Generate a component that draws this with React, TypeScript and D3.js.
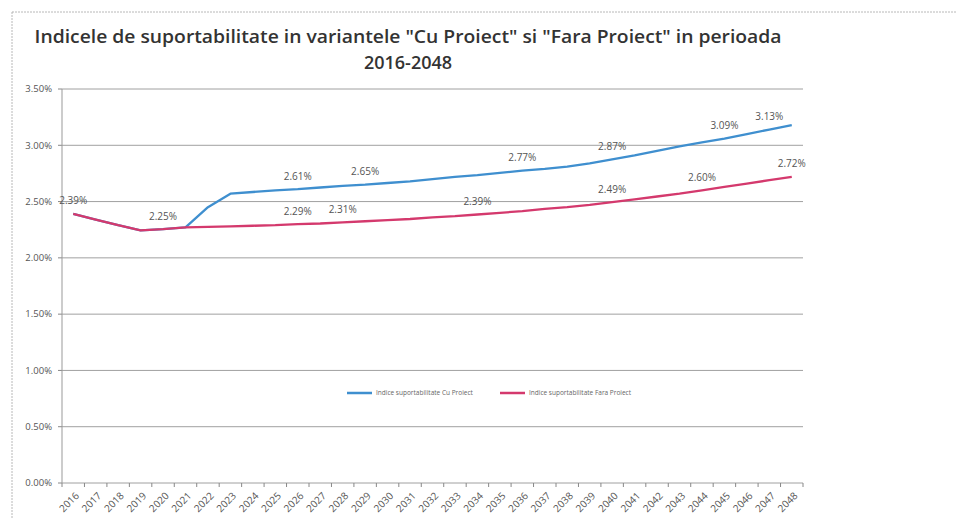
import React from 'react';
import * as d3 from 'd3';

// years on the category axis
const years = d3.range(2016, 2049).map(String);

// Indice suportabilitate Cu Proiect (%)
const cuProiect = [
  2.39, 2.34, 2.29, 2.245, 2.255, 2.27, 2.45, 2.57, 2.585, 2.6, 2.61,
  2.625, 2.64, 2.65, 2.665, 2.68, 2.7, 2.72, 2.735, 2.755, 2.775, 2.79,
  2.81, 2.84, 2.875, 2.91, 2.95, 2.99, 3.025, 3.06, 3.1, 3.14, 3.18,
];

// Indice suportabilitate Fara Proiect (%)
const faraProiect = [
  2.39, 2.34, 2.29, 2.245, 2.255, 2.27, 2.275, 2.28, 2.285, 2.29, 2.3,
  2.305, 2.315, 2.325, 2.335, 2.345, 2.36, 2.37, 2.385, 2.4, 2.415, 2.435,
  2.45, 2.47, 2.495, 2.52, 2.545, 2.57, 2.6, 2.63, 2.66, 2.69, 2.72,
];

// data labels as printed on the chart
const cuLabelYears = ['2026', '2029', '2036', '2040', '2045', '2047'];
const cuLabelValues = [2.61, 2.65, 2.77, 2.87, 3.09, 3.13];
const faraLabelYears = ['2016', '2020', '2026', '2028', '2034', '2040', '2044', '2048'];
const faraLabelValues = [2.39, 2.25, 2.29, 2.31, 2.39, 2.49, 2.6, 2.72];

const yTicks = [0, 0.5, 1, 1.5, 2, 2.5, 3, 3.5];

const titleLine1 = 'Indicele de suportabilitate in variantele "Cu Proiect" si "Fara Proiect" in perioada';
const titleLine2 = '2016-2048';
const cuName = 'Indice suportabilitate Cu Proiect';
const faraName = 'Indice suportabilitate Fara Proiect';

const blue = '#3f8fcf';
const pink = '#d4396d';

export default function App() {
  const width = 957;
  const height = 519;
  const left = 62;
  const right = 803;
  const top = 89;
  const bottom = 483;

  const x = d3.scaleBand().domain(years).range([left, right]).padding(0);
  const y = d3.scaleLinear().domain([0, 3.5]).range([bottom, top]);
  const cx = (yr) => x(yr) + x.bandwidth() / 2;

  const line = d3
    .line()
    .x((d, i) => cx(years[i]))
    .y((d) => y(d));

  const fmt = (v) => `${v.toFixed(2)}%`;
  const tickEdges = years.map((yr) => x(yr)).concat([right]);

  return (
    <svg
      width={width}
      height={height}
      style={{ position: 'absolute', left: 0, top: 0, background: '#fff' }}
      fontFamily="'Open Sans', sans-serif"
    >
      <rect x={12} y={12} width={960} height={520} fill="none" stroke="#b8b8b8" strokeDasharray="2,1" />

      <text x={408} y={43} textAnchor="middle" fontSize={18} fontWeight={600} fill="#333"
        textLength={747} lengthAdjust="spacingAndGlyphs">
        {titleLine1}
      </text>
      <text x={408} y={69} textAnchor="middle" fontSize={18} fontWeight={600} fill="#333">
        {titleLine2}
      </text>

      {/* gridlines and y labels */}
      {yTicks.map((t) => (
        <g key={t}>
          <line x1={left} x2={right} y1={y(t)} y2={y(t)} stroke="#a0a0a0" strokeWidth={1} />
          <line x1={left - 4} x2={left} y1={y(t)} y2={y(t)} stroke="#888" />
          <text x={52} y={y(t)} dy="0.35em" textAnchor="end" fontSize={9.5} fill="#555">
            {fmt(t)}
          </text>
        </g>
      ))}
      <line x1={left} x2={left} y1={top} y2={bottom} stroke="#999" />

      {/* x axis */}
      {tickEdges.map((tx, i) => (
        <line key={i} x1={tx} x2={tx} y1={bottom} y2={bottom + 4} stroke="#888" />
      ))}
      {years.map((yr) => (
        <text key={yr} transform={`translate(${cx(yr) + 4},${bottom + 11}) rotate(-45)`}
          textAnchor="end" dy="0.35em" fontSize={10} fill="#555">
          {yr}
        </text>
      ))}

      {/* series: pink drawn last, it covers blue where both coincide */}
      <path d={line(cuProiect)} fill="none" stroke={blue} strokeWidth={2.3} strokeLinejoin="round" />
      <path d={line(faraProiect)} fill="none" stroke={pink} strokeWidth={2.3} strokeLinejoin="round" />

      {/* data labels */}
      {cuLabelYears.map((yr, i) => (
        <text key={'c' + yr} x={cx(yr)} y={y(cuProiect[years.indexOf(yr)]) - 13} dy="0.35em"
          textAnchor="middle" fontSize={10} fill="#555">
          {fmt(cuLabelValues[i])}
        </text>
      ))}
      {faraLabelYears.map((yr, i) => (
        <text key={'f' + yr} x={cx(yr)} y={y(faraProiect[years.indexOf(yr)]) - 13} dy="0.35em"
          textAnchor="middle" fontSize={10} fill="#555">
          {fmt(faraLabelValues[i])}
        </text>
      ))}

      {/* legend */}
      <line x1={347} x2={372} y1={393} y2={393} stroke={blue} strokeWidth={2.5} />
      <text x={376} y={393} dy="0.35em" fontSize={6.5} fill="#666">{cuName}</text>
      <line x1={500} x2={525} y1={393} y2={393} stroke={pink} strokeWidth={2.5} />
      <text x={529} y={393} dy="0.35em" fontSize={6.5} fill="#666">{faraName}</text>
    </svg>
  );
}
